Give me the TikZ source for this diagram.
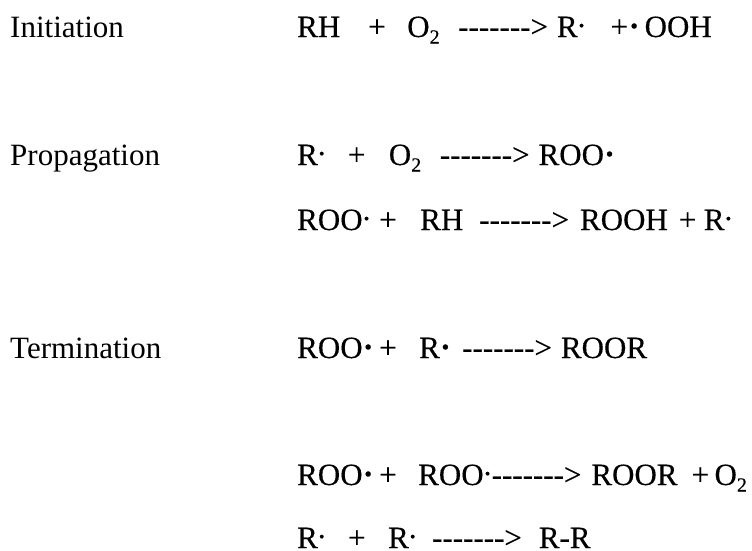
\documentclass[tikz,border=0pt]{standalone}
\usepackage{fontspec}
\setmainfont{Liberation Serif}
\newfontfamily\eqfont[FakeBold=0.35]{Liberation Serif}
\tikzset{lab/.style={anchor=base west,inner sep=0pt,font=\fontsize{31}{34}\selectfont},
 eq/.style={anchor=base west,inner sep=0pt,font=\fontsize{31}{34}\selectfont\eqfont}}
\newcommand{\rdot}{\makebox[8pt][l]{\raisebox{10pt}{.}}}
\newcommand{\bdot}{\makebox[8pt][l]{\raisebox{9pt}{\fontsize{44}{44}\selectfont .}}}
\newcommand{\subtwo}{\raisebox{-6.5pt}{\fontsize{20}{22}\selectfont 2}}
\newcommand{\arr}{-{}-{}-{}-{}-{}-{}->}
\newcommand{\g}[1]{\hspace*{#1pt}}
\begin{document}
\begin{tikzpicture}[x=1pt,y=-1pt]
\useasboundingbox (0,0) rectangle (752,550);
\node[lab] (l1) at (10,37) {Initiation};
\node[lab] (l2) at (10,165) {Propagation};
\node[lab] (l3) at (10,358) {Termination};
\node[eq] (e1) at (297,37) {RH\g{28}+\g{21.5}O\subtwo\g{18.6}\arr\g{9}R\rdot\g{25}+\g{0.5}\bdot\g{8}OOH};
\node[eq] (e2) at (297,165) {R\rdot\g{22}+\g{23.5}O\subtwo\g{18.6}\arr\g{9}ROO\bdot};
\node[eq] (e3) at (297,230) {ROO\rdot\g{8.6}+\g{23.5}RH\g{16}\arr\g{11}ROOH\g{11}+\g{7.5}R\rdot};
\node[eq] (e4) at (297,358) {ROO\bdot\g{8.6}+\g{22.5}R\bdot\g{14.3}\arr\g{9}ROOR};
\node[eq] (e5) at (297,485) {ROO\bdot\g{8.6}+\g{21.5}ROO\rdot\arr\g{10}ROOR\g{14}+\g{5.5}O\subtwo};
\node[eq] (e6) at (297,548) {R\rdot\g{22.3}+\g{22.5}R\rdot\g{15.3}\arr\g{17}R-R};
\end{tikzpicture}
\end{document}
